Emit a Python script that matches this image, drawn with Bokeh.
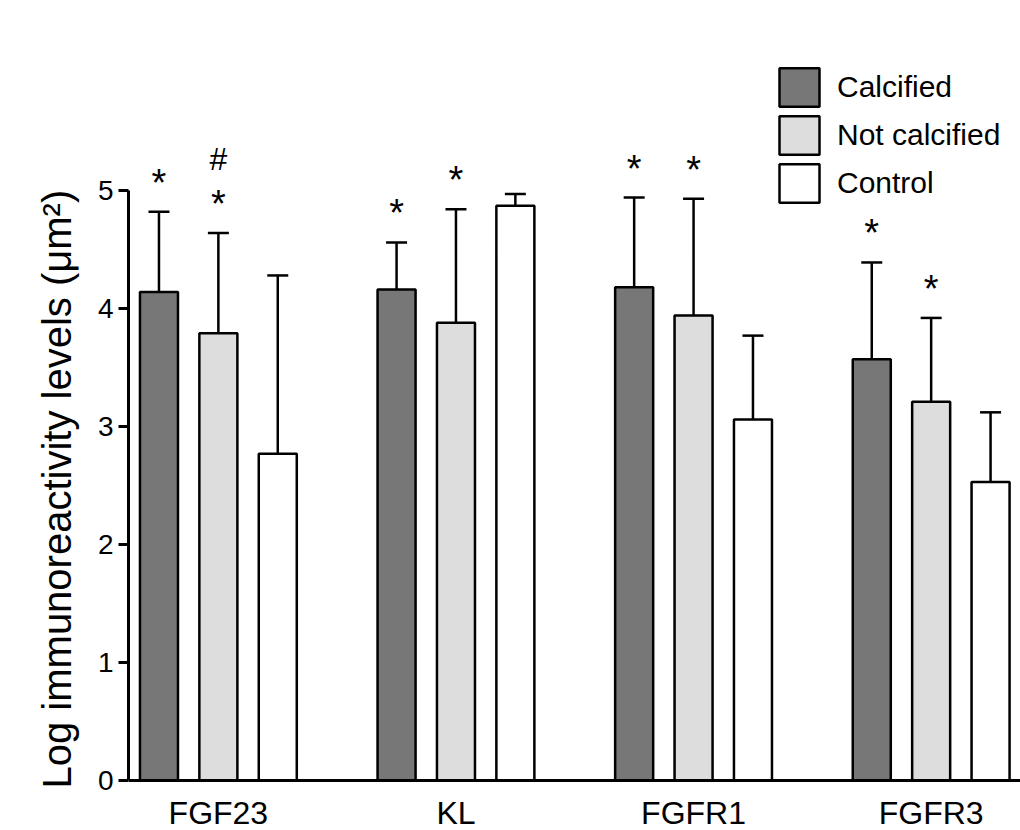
from bokeh.plotting import figure
from bokeh.models import (ColumnDataSource, Whisker, TeeHead, FixedTicker, Legend,
                          LegendItem, Range1d, Title)
from bokeh.core.properties import value
from bokeh.embed import file_html
from bokeh.resources import INLINE

# ---------------- data ----------------
groups = ["FGF23", "KL", "FGFR1", "FGFR3"]
series = ["Calcified", "Not calcified", "Control"]

calcified = [4.14, 4.16, 4.18, 3.57]
calcified_sd = [0.68, 0.40, 0.76, 0.82]
not_calcified = [3.79, 3.88, 3.94, 3.21]
not_calcified_sd = [0.85, 0.96, 0.99, 0.71]
control = [2.77, 4.87, 3.06, 2.53]
control_sd = [1.51, 0.10, 0.71, 0.59]

calcified_marks = ["*", "*", "*", "*"]
not_calcified_marks = ["*", "*", "*", "*"]
not_calcified_hash = ["#", "", "", ""]
control_marks = ["", "", "", ""]

y_ticks = [0, 1, 2, 3, 4, 5]
y_label = "Log immunoreactivity levels (\u03bcm\u00b2)"

colors = ["#777777", "#dddddd", "#ffffff"]
FONT = "Liberation Sans"

# ---------------- figure ----------------
p = figure(width=1020, height=830, output_backend="svg", toolbar_location=None,
           x_range=Range1d(-0.513, 14.504), y_range=Range1d(-0.4237, 6.610),
           min_border_left=128, min_border_right=0, min_border_top=0,
           min_border_bottom=0)
p.outline_line_color = None
p.grid.visible = False
p.background_fill_color = "white"
p.border_fill_color = "white"

means = [calcified, not_calcified, control]
sds = [calcified_sd, not_calcified_sd, control_sd]
marks = [calcified_marks, not_calcified_marks, control_marks]

items = []
for j, (name, m, s, mk, col) in enumerate(zip(series, means, sds, marks, colors)):
    xs = [4 * i + j for i in range(len(groups))]
    src = ColumnDataSource(dict(x=xs, top=m, upper=[a + b for a, b in zip(m, s)], mark=mk))
    w = Whisker(source=src, base="x", upper="upper", lower="top",
                line_color="black", line_width=2.5,
                upper_head=TeeHead(size=21, line_width=2.5, line_color="black"),
                lower_head=None)
    p.add_layout(w)
    r = p.vbar(x="x", top="top", bottom=0, width=0.64, source=src,
               fill_color=col, line_color="black", line_width=2.5)
    items.append(LegendItem(label=name, renderers=[r]))
    p.text(x="x", y="upper", text="mark", source=src, text_font=value(FONT),
           text_font_size="38px", text_align="center", text_baseline="alphabetic",
           y_offset=-29, text_color="black")
    if j == 1:
        hsrc = ColumnDataSource(dict(x=xs, upper=[a + b for a, b in zip(m, s)],
                                     mark=not_calcified_hash))
        p.text(x="x", y="upper", text="mark", source=hsrc, text_font=value(FONT),
               text_font_size="32px", text_align="center", text_baseline="alphabetic",
               y_offset=-74, text_color="black")

legend = Legend(items=items, location=(646, 623), orientation="vertical",
                glyph_width=50, glyph_height=48, spacing=0, label_standoff=13,
                label_text_font=FONT, label_text_font_size="30px",
                label_text_color="black",
                padding=0, margin=0, border_line_color=None,
                background_fill_alpha=0)
p.add_layout(legend)

# ---------------- axes ----------------
xa = p.xaxis[0]
xa.fixed_location = 0
xa.ticker = FixedTicker(ticks=[4 * i + 1 for i in range(len(groups))])
xa.major_label_overrides = {4 * i + 1: g for i, g in enumerate(groups)}
xa.major_tick_line_color = None
xa.minor_tick_line_color = None
xa.major_tick_out = 0
xa.major_tick_in = 0
xa.major_label_standoff = 14
xa.axis_line_width = 3
xa.major_label_text_font = FONT
xa.major_label_text_font_size = "32px"
xa.major_label_text_color = "black"

ya = p.yaxis[0]
ya.bounds = (0, 5)
ya.ticker = FixedTicker(ticks=y_ticks)
ya.minor_tick_line_color = None
ya.major_tick_out = 10
ya.major_tick_in = 0
ya.major_tick_line_width = 3
ya.axis_line_width = 3
ya.major_label_standoff = 5
ya.major_label_text_font = FONT
ya.major_label_text_font_size = "28px"
ya.major_label_text_color = "black"

ylab = Title(text=y_label, align="left", offset=42, text_font=FONT,
             text_font_size="40px", text_font_style="normal", text_color="black",
             standoff=32)
p.add_layout(ylab, "left")

open("out.html", "w").write(file_html(p, INLINE))
